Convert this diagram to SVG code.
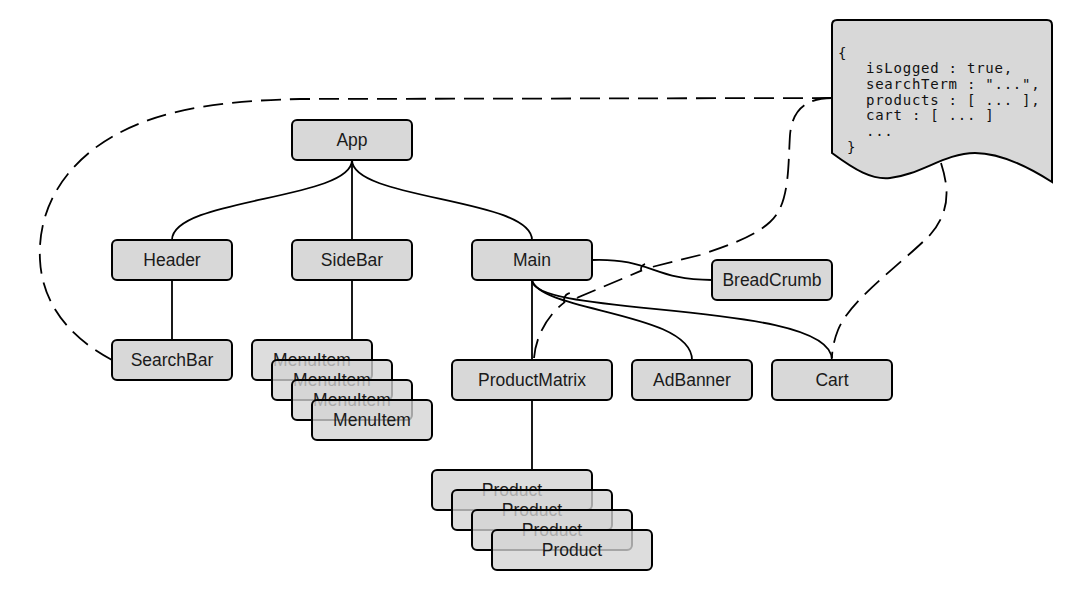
<svg xmlns="http://www.w3.org/2000/svg" width="1092" height="610" viewBox="0 0 1092 610">
<style>
.box{fill:#d8d8d8;stroke:#000;stroke-width:2}
.stk{fill:#d4d4d4;fill-opacity:0.78;stroke:#000;stroke-width:2}
.lbl{font-family:"Liberation Sans",Arial,sans-serif;font-size:17.5px;fill:#1a1a1a;text-anchor:middle}
.ln{fill:none;stroke:#000;stroke-width:1.8}
.dsh{fill:none;stroke:#000;stroke-width:1.8;stroke-dasharray:20 9}
.code{font-family:"DejaVu Sans Mono","Liberation Mono",monospace;font-size:14px;letter-spacing:0.75px;fill:#111}
</style>
<rect width="1092" height="610" fill="#fff"/>
<g id="connectors">
<path class="ln" d="M352,160 C352,200 172,198 172,240"/>
<path class="ln" d="M352,160 L352,240"/>
<path class="ln" d="M352,160 C352,200 532,198 532,240"/>
<path class="ln" d="M172,280 L172,340"/>
<path class="ln" d="M352,280 L352,340"/>
<path class="ln" d="M592,260 C652,258 652,280 712,280"/>
<path class="ln" d="M532,280 L532,360"/>
<path class="ln" d="M532,280 C540,312 692,312 692,360"/>
<path class="ln" d="M532,280 C532,318 832,300 832,360"/>
<path class="ln" d="M532,400 L532,470"/>
<path class="dsh" d="M832,98 L300,99 C200,101 140,115 95,148 C50,182 38,225 40,260 C42,300 65,335 112,360"/>
<path class="dsh" d="M832,98 C806,98 792,110 790,135 C788,165 790,205 770,222 C755,236 730,245 700,255 L650.7,267.3 A5,5 0 0 0 641.3,270.7 L577.6,297.6 A7,7 0 0 0 564.4,302.4 C548,315 536,335 534,358"/>
<path class="dsh" d="M941,163 C948,185 952,210 930,235 C900,265 850,300 838,330 C834,340 832,350 832,358"/>
</g>
<g id="state">
<path d="M837,20 L1047,20 Q1052,20 1052,25 L1052,182 C1030,168 1000,153 975,153 C945,153 920,175 890,178 C872,180 855,170 832,153 L832,25 Q832,20 837,20 Z" fill="#d8d8d8" stroke="#000" stroke-width="2"/>
<text class="code"><tspan x="838" y="57.5">{</tspan><tspan x="866" y="73.2">isLogged : true,</tspan><tspan x="866" y="88.9">searchTerm : "...",</tspan><tspan x="866" y="104.6">products : [ ... ],</tspan><tspan x="866" y="120.3">cart : [ ... ]</tspan><tspan x="866" y="136">...</tspan><tspan x="847" y="151.7">}</tspan></text>
</g>
<g id="app"><rect class="box" x="292" y="120" width="120" height="40" rx="5"/><text class="lbl" x="352" y="146">App</text></g>
<g id="header"><rect class="box" x="112" y="240" width="120" height="40" rx="5"/><text class="lbl" x="172" y="266">Header</text></g>
<g id="sidebar"><rect class="box" x="292" y="240" width="120" height="40" rx="5"/><text class="lbl" x="352" y="266">SideBar</text></g>
<g id="main"><rect class="box" x="472" y="240" width="120" height="40" rx="5"/><text class="lbl" x="532" y="266">Main</text></g>
<g id="breadcrumb"><rect class="box" x="712" y="260" width="120" height="40" rx="5"/><text class="lbl" x="772" y="286">BreadCrumb</text></g>
<g id="searchbar"><rect class="box" x="112" y="340" width="120" height="40" rx="5"/><text class="lbl" x="172" y="366">SearchBar</text></g>
<g id="productmatrix"><rect class="box" x="452" y="360" width="160" height="40" rx="5"/><text class="lbl" x="532" y="386">ProductMatrix</text></g>
<g id="adbanner"><rect class="box" x="632" y="360" width="120" height="40" rx="5"/><text class="lbl" x="692" y="386">AdBanner</text></g>
<g id="cart"><rect class="box" x="772" y="360" width="120" height="40" rx="5"/><text class="lbl" x="832" y="386">Cart</text></g>
<g id="menuitem1"><rect class="stk" x="252" y="340" width="120" height="40" rx="5"/><text class="lbl" x="312" y="366">MenuItem</text></g>
<g id="menuitem2"><rect class="stk" x="272" y="360" width="120" height="40" rx="5"/><text class="lbl" x="332" y="386">MenuItem</text></g>
<g id="menuitem3"><rect class="stk" x="292" y="380" width="120" height="40" rx="5"/><text class="lbl" x="352" y="406">MenuItem</text></g>
<g id="menuitem4"><rect class="stk" x="312" y="400" width="120" height="40" rx="5"/><text class="lbl" x="372" y="426">MenuItem</text></g>
<g id="product1"><rect class="stk" x="432" y="470" width="160" height="40" rx="5"/><text class="lbl" x="512" y="496">Product</text></g>
<g id="product2"><rect class="stk" x="452" y="490" width="160" height="40" rx="5"/><text class="lbl" x="532" y="516">Product</text></g>
<g id="product3"><rect class="stk" x="472" y="510" width="160" height="40" rx="5"/><text class="lbl" x="552" y="536">Product</text></g>
<g id="product4"><rect class="stk" x="492" y="530" width="160" height="40" rx="5"/><text class="lbl" x="572" y="556">Product</text></g>
</svg>
